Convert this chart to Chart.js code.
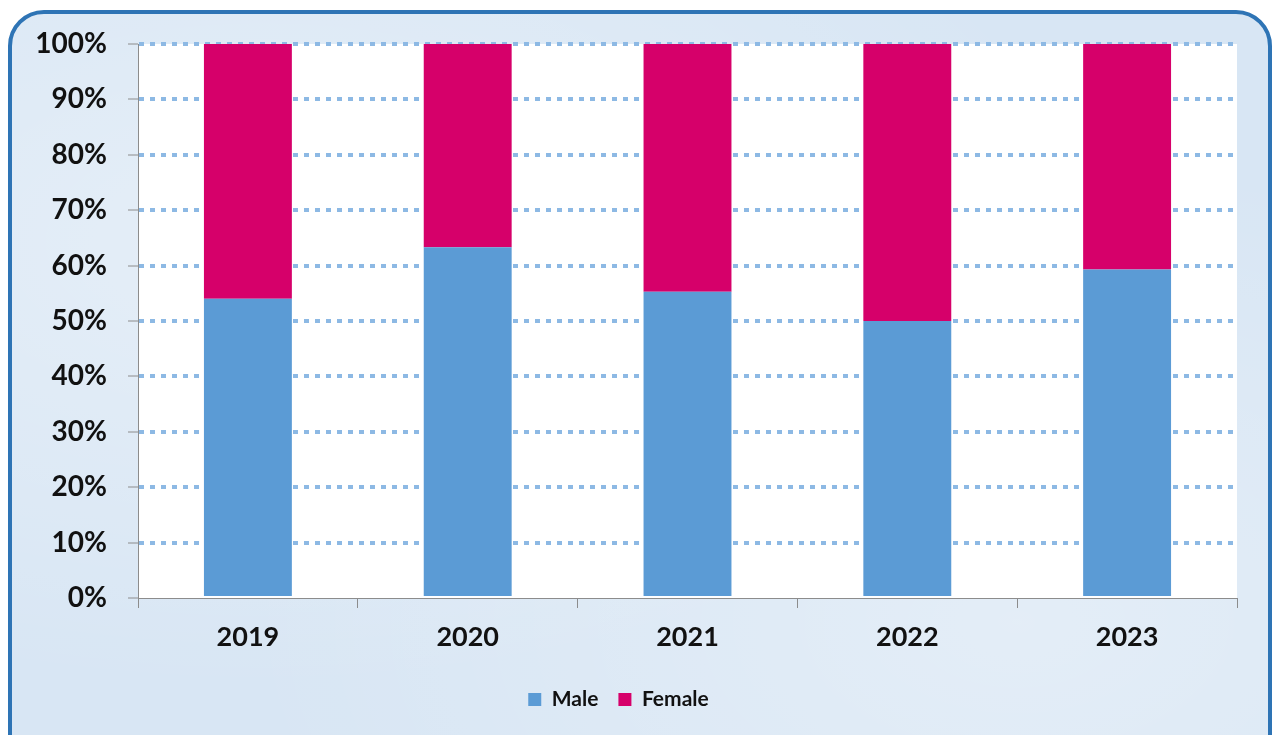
<!DOCTYPE html>
<html>
<head>
<meta charset="utf-8">
<script src="https://cdn.jsdelivr.net/npm/chart.js@4/dist/chart.umd.min.js"></script>
<style>
  html, body { margin: 0; padding: 0; background: #fff; overflow: hidden; }
  body { width: 1276px; height: 735px; position: relative; }
  /* marco redondeado con fondo azul claro */
  .box {
    position: absolute; left: 8px; top: 10px; width: 1256px; height: 760px;
    border: 4px solid #2e74b5; border-radius: 36px;
    background: #d8e6f4;
    background-image:
      radial-gradient(ellipse at 20% 30%, rgba(255,255,255,0.35), transparent 60%),
      radial-gradient(ellipse at 80% 80%, rgba(255,255,255,0.3), transparent 55%);
  }
  .wrap { position: absolute; left: 0; top: 0; width: 1276px; height: 735px; }
</style>
</head>
<body>
<div class="box"></div>
<div class="wrap"><canvas id="chartSex"></canvas></div>
<script>
// --- Datos ---
const years = ["2019", "2020", "2021", "2022", "2023"];
const male = [54, 63.3, 55.3, 50, 59.3];
const female = [46, 36.7, 44.7, 50, 40.7];
const yTicks = [0, 10, 20, 30, 40, 50, 60, 70, 80, 90, 100];

const FONT = "Lato, 'Open Sans', sans-serif";

// fondo blanco solo en el área del gráfico
const plotBg = {
  id: "plotBg",
  beforeDraw(chart) {
    const { ctx, chartArea: a } = chart;
    ctx.save();
    ctx.fillStyle = "#ffffff";
    ctx.fillRect(a.left, a.top, a.right - a.left, a.bottom - a.top);
    ctx.restore();
  }
};

const ctx = document.getElementById("chartSex").getContext("2d");
new Chart(ctx, {
  type: "bar",
  data: {
    labels: years,
    datasets: [
      { label: "Male", data: male, backgroundColor: "#5b9bd5", borderWidth: 0,
        barPercentage: 1, categoryPercentage: 0.4 },
      { label: "Female", data: female, backgroundColor: "#d6006a", borderWidth: 0,
        barPercentage: 1, categoryPercentage: 0.4 }
    ]
  },
  options: {
    responsive: true,
    maintainAspectRatio: false,
    animation: false,
    devicePixelRatio: 1,
    layout: { padding: { top: 44, right: 39, bottom: 15, left: 0 } },
    scales: {
      x: {
        stacked: true,
        grid: { drawOnChartArea: false, drawTicks: true, tickLength: 10,
                tickColor: "#8c8c8c", tickWidth: 1, offset: true },
        border: { color: "#8c8c8c", width: 1 },
        ticks: { color: "#111", padding: 13, font: { family: FONT, size: 27, weight: "bold" } },
        afterFit: (s) => { s.height = 71; }
      },
      y: {
        stacked: true,
        min: 0,
        max: 100,
        afterBuildTicks: (s) => { s.ticks = yTicks.map((v) => ({ value: v })); },
        grid: {
          color: (c) => (c.tick && c.tick.value === 0 ? "rgba(0,0,0,0)" : "#8db9e4"),
          lineWidth: 4,
          tickLength: 10,
          tickColor: "#8c8c8c",
          tickWidth: 1
        },
        border: { color: "#8c8c8c", width: 1, dash: [5, 6] },
        ticks: {
          color: "#111",
          padding: 21,
          font: { family: FONT, size: 28, weight: "bold" },
          callback: (v) => v + "%"
        },
        afterFit: (s) => { s.width = 138; }
      }
    },
    plugins: {
      legend: {
        position: "bottom",
        labels: {
          color: "#111",
          boxWidth: 13,
          boxHeight: 13,
          padding: 20,
          font: { family: FONT, size: 21, weight: "bold" }
        }
      },
      tooltip: { enabled: false }
    }
  },
  plugins: [plotBg]
});
</script>
</body>
</html>
